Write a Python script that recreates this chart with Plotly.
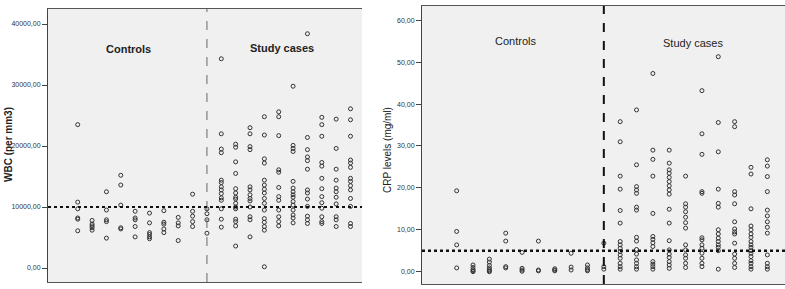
import plotly.graph_objects as go

# ---- WBC (per mm3), one list per column position 1..20 ----
wbc_columns = [
    [23500, 10800, 9700, 8200, 8000, 6100],
    [7800, 7200, 6900, 6600, 6200],
    [12500, 9500, 7900, 7600, 4900],
    [15200, 13600, 10300, 6600, 6400],
    [9300, 8200, 7900, 6800, 5100],
    [9000, 7400, 5800, 5500, 5100, 4800],
    [9400, 7500, 7200, 6400, 5800],
    [8300, 7400, 6900, 4500],
    [12100, 9300, 8500, 7600, 6800],
    [9700, 8900, 7900, 5700],
    [34300, 22000, 19500, 18900, 14400, 14000, 13300, 12800, 12200, 11500, 11100, 9700, 8000, 6700],
    [20300, 19800, 17400, 15500, 13000, 12300, 11600, 11300, 10600, 10000, 9700, 8000, 7600, 6900, 3600],
    [23000, 22000, 19900, 19400, 13300, 12800, 12000, 11400, 11000, 10000, 8400, 7900, 5100],
    [24800, 21800, 17900, 17200, 14400, 13600, 12900, 12300, 11400, 10600, 9500, 8100, 7500, 6800, 6200, 200],
    [25600, 24800, 21700, 16100, 15700, 13200, 11700, 11100, 9500, 8400, 7600, 6900],
    [29800, 20100, 19600, 19100, 14200, 13100, 12500, 12000, 11600, 10900, 10300, 9500, 8700, 8200, 7400],
    [38400, 21400, 19400, 18200, 17600, 16200, 12800, 12300, 11300, 10100, 8500, 7900, 7300],
    [24700, 23500, 21600, 17300, 16700, 14700, 13000, 11700, 10700, 9800, 8400, 7600, 7300],
    [24400, 19600, 16200, 14400, 13100, 12500, 11600, 10500, 8400, 7900, 6800],
    [26100, 24300, 21600, 17700, 17200, 16500, 14700, 14200, 13500, 12800, 11400, 10100, 7300, 6800],
]

# ---- CRP levels (mg/ml), one list per column position 1..20 ----
crp_columns = [
    [19.3, 9.6, 6.4, 0.9],
    [1.6, 1.0, 0.5, 0.2, 0.0],
    [3.0, 2.3, 1.5, 0.9, 0.5, 0.2, 0.0],
    [9.2, 7.3, 1.2, 0.9],
    [4.6, 0.8, 0.4, 0.1],
    [7.3, 0.4, 0.2],
    [0.7, 0.4, 0.2],
    [4.4, 1.1, 0.4],
    [1.6, 0.9, 0.5, 0.2],
    [6.8, 1.2, 0.6],
    [35.8, 31.0, 22.8, 19.7, 14.6, 11.6, 7.2, 6.4, 5.6, 4.8, 4.0, 3.2, 2.0, 1.2, 0.6],
    [38.6, 25.5, 20.3, 19.5, 18.7, 15.4, 14.7, 8.2, 7.3, 5.3, 4.2, 2.8, 2.0, 1.2, 0.6],
    [47.3, 29.0, 26.8, 22.8, 13.9, 8.4, 7.7, 6.9, 6.0, 2.4, 1.8, 1.2, 0.6],
    [29.0, 25.9, 24.3, 23.5, 22.5, 21.5, 20.5, 19.5, 18.5, 14.9, 11.6, 7.4, 5.2, 4.2, 3.4, 2.4, 1.6, 0.8],
    [22.8, 16.2, 15.4, 14.3, 13.0, 11.7, 10.4, 6.4, 5.2, 4.0, 3.2, 2.0, 1.0],
    [43.2, 32.9, 28.0, 19.1, 18.7, 8.1, 7.6, 6.4, 5.6, 4.4, 3.2, 2.0, 1.2],
    [51.3, 35.6, 28.6, 19.7, 16.3, 15.4, 10.0, 9.0, 8.0, 7.2, 6.4, 5.8, 5.0, 0.6],
    [35.8, 34.6, 19.1, 18.3, 16.2, 11.9, 10.2, 9.5, 9.0, 6.8, 4.2, 3.2, 2.0, 1.0],
    [24.9, 23.3, 15.0, 10.9, 10.0, 9.0, 8.2, 7.2, 6.4, 5.8, 5.0, 4.4, 3.6, 2.6, 2.0, 1.2, 0.6],
    [26.7, 25.2, 22.7, 19.1, 14.7, 13.3, 11.9, 10.6, 9.2, 4.0, 2.0, 1.2, 0.6],
]

wbc_tick_vals = [0, 10000, 20000, 30000, 40000]
wbc_tick_text = ["0,00", "10000,00", "20000,00", "30000,00", "40000,00"]
crp_tick_vals = [0, 10, 20, 30, 40, 50, 60]
crp_tick_text = ["0,00", "10,00", "20,00", "30,00", "40,00", "50,00", "60,00"]

wbc_cutoff = 10000
crp_cutoff = 5
group_split = 10

W, H = 785, 289

def flatten(cols):
    xs, ys = [], []
    for i, col in enumerate(cols):
        for v in col:
            xs.append(i + 1)
            ys.append(v)
    return xs, ys

wx, wy = flatten(wbc_columns)
cx, cy = flatten(crp_columns)

marker = dict(symbol="circle-open", size=4, color="#333333", line=dict(width=1, color="#333333"))

fig = go.Figure()
fig.add_trace(go.Scatter(x=wx, y=wy, mode="markers", marker=marker, xaxis="x", yaxis="y", showlegend=False))
fig.add_trace(go.Scatter(x=cx, y=cy, mode="markers", marker=marker, xaxis="x2", yaxis="y2", showlegend=False))

font_ticks = dict(family="Liberation Sans, Arial, sans-serif", size=7, color="#333333")

fig.update_layout(
    template="none",
    width=W, height=H,
    margin=dict(l=0, r=0, t=0, b=0, pad=0),
    paper_bgcolor="white",
    plot_bgcolor="#f0f0f0",
    font=dict(family="Liberation Sans, Arial, sans-serif", color="#222222"),
    xaxis=dict(domain=[48 / W, 362 / W], range=[-1.07, 20.8], showgrid=False, zeroline=False,
               showticklabels=False, ticks="", showline=True, linecolor="#555555", linewidth=1, mirror=True),
    yaxis=dict(domain=[(H - 282) / H, (H - 9) / H], range=[-2295, 42459], showgrid=False, zeroline=False,
               tickvals=wbc_tick_vals, ticktext=wbc_tick_text, ticks="outside", ticklen=5,
               tickcolor="#444444", tickfont=font_ticks, showline=True, linecolor="#444444", linewidth=1),
    xaxis2=dict(domain=[422 / W, 1.0], range=[-1.12, 21.08], showgrid=False, zeroline=False,
                showticklabels=False, ticks="", showline=True, linecolor="#555555", linewidth=1, mirror=True,
                anchor="y2"),
    yaxis2=dict(domain=[(H - 284) / H, (H - 6) / H], range=[-2.94, 63.4], showgrid=False, zeroline=False,
                tickvals=crp_tick_vals, ticktext=crp_tick_text, ticks="outside", ticklen=5,
                tickcolor="#444444", tickfont=font_ticks, showline=True, linecolor="#444444", linewidth=1,
                anchor="x2"),
)

shapes = [
    dict(type="line", xref="x", yref="y domain", x0=group_split, x1=group_split, y0=0, y1=1,
         line=dict(color="#666666", width=1, dash="dash")),
    dict(type="line", xref="x domain", yref="y", x0=0, x1=1, y0=wbc_cutoff, y1=wbc_cutoff,
         line=dict(color="#111111", width=2, dash="dot")),
    dict(type="line", xref="x2", yref="y2 domain", x0=group_split, x1=group_split, y0=0, y1=1,
         line=dict(color="#111111", width=2, dash="dash")),
    dict(type="line", xref="x2 domain", yref="y2", x0=0, x1=1, y0=crp_cutoff, y1=crp_cutoff,
         line=dict(color="#111111", width=2.5, dash="dot")),
]
fig.update_layout(shapes=shapes)

ann_font = dict(family="Liberation Sans, Arial, sans-serif", size=11, color="#222222")
def px_ann(text, x, y, **kw):
    return dict(text=text, x=x / W, y=1 - y / H, xref="paper", yref="paper", showarrow=False,
                xanchor="center", yanchor="middle", **kw)

annotations = [
    px_ann("<b>Controls</b>", 128, 49, font=ann_font),
    px_ann("<b>Study cases</b>", 282, 48, font=ann_font),
    px_ann("Controls", 515, 41, font=ann_font),
    px_ann("Study cases", 693, 43, font=ann_font),
    px_ann("<b>WBC (per mm3)</b>", 8, 145, textangle=-90,
           font=dict(family="Liberation Sans, Arial, sans-serif", size=10, color="#222222")),
    px_ann("CRP levels (mg/ml)", 387, 150, textangle=-90,
           font=dict(family="Liberation Sans, Arial, sans-serif", size=10, color="#222222")),
]
fig.update_layout(annotations=annotations)

fig.write_html("out.html", config={"displayModeBar": False},
               post_script="document.body.style.margin='0px';document.body.style.overflow='hidden';")
